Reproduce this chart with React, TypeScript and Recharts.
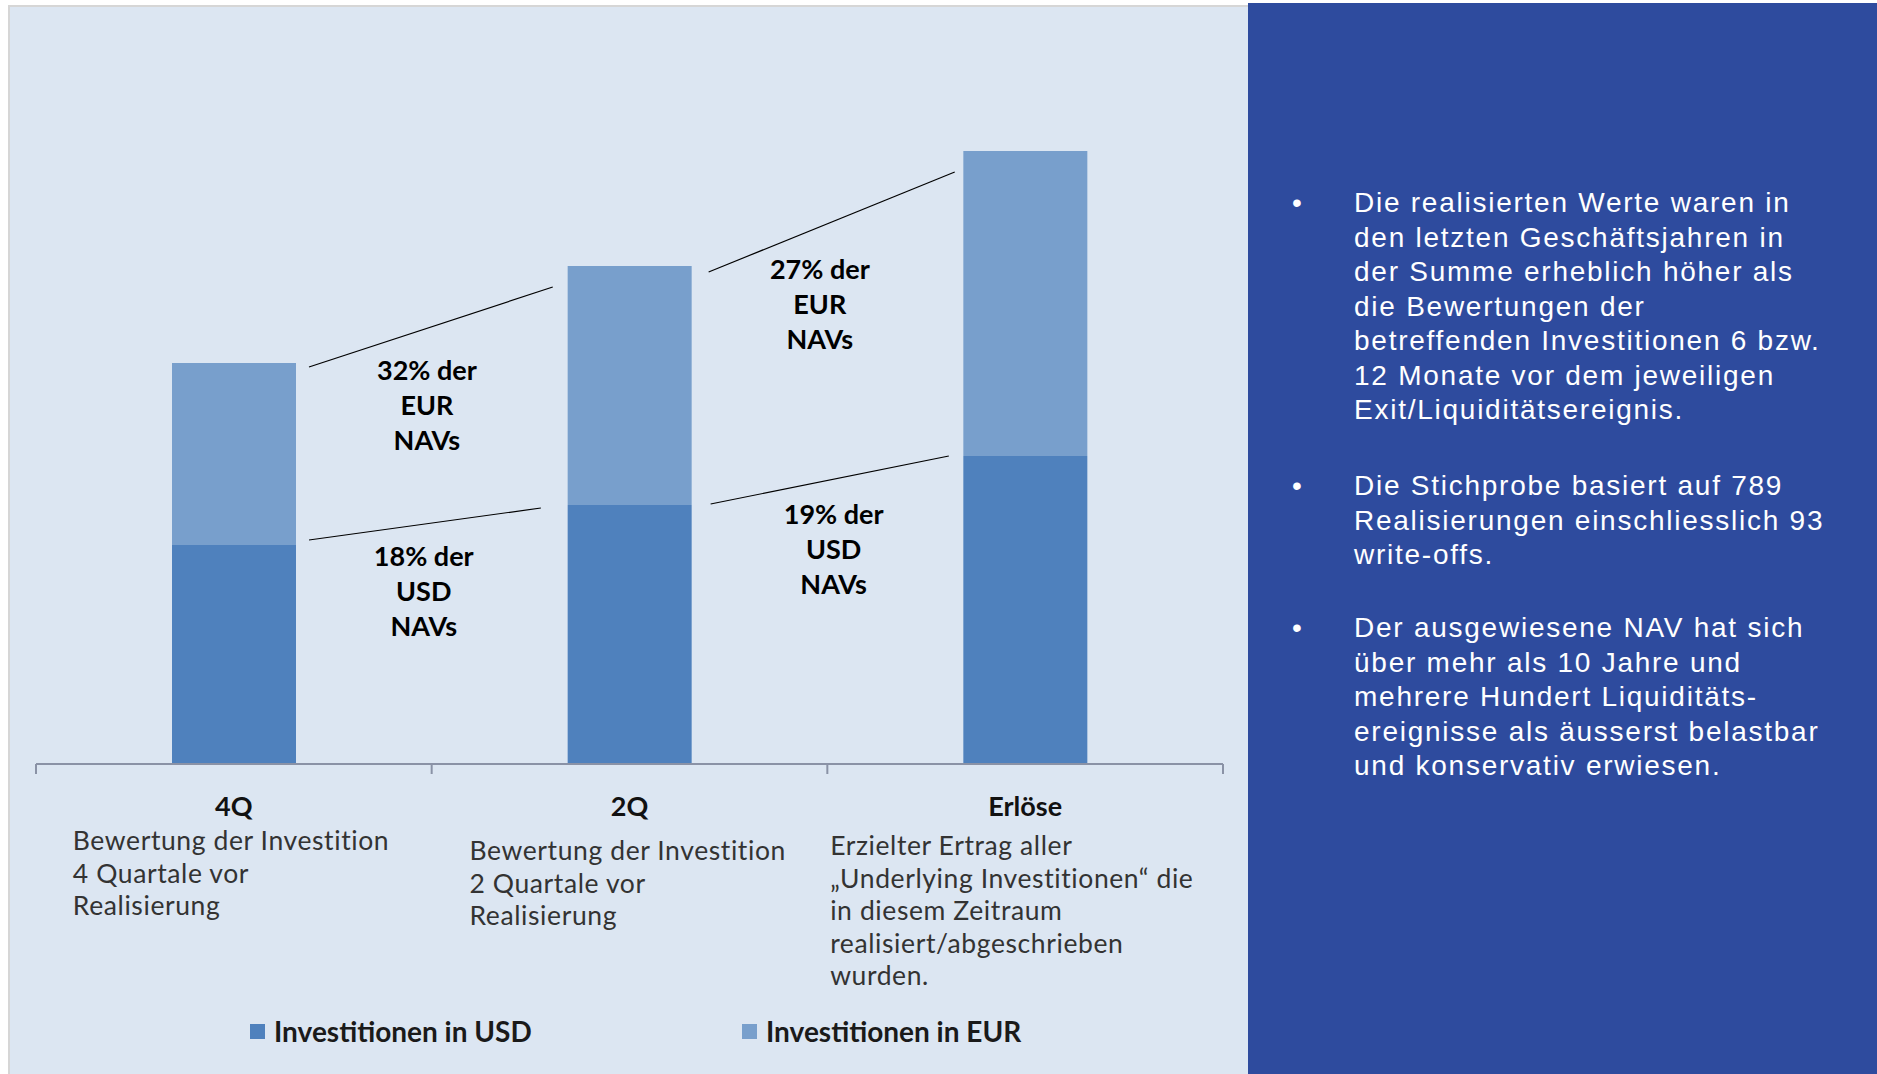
import React from 'react';
import { BarChart, Bar, XAxis, YAxis, Legend, ReferenceLine, ReferenceDot } from 'recharts';

// values are in relative units (index of valuations)
const categories = ['4Q', '2Q', 'Erlöse'];
const usdValues = [219, 259, 308];
const eurValues = [182, 239, 305];
const seriesNames = ['Investitionen in USD', 'Investitionen in EUR'];

const descriptions = [
  ['Bewertung der Investition', '4 Quartale vor', 'Realisierung'],
  ['Bewertung der Investition', '2 Quartale vor', 'Realisierung'],
  ['Erzielter Ertrag aller', '„Underlying Investitionen“ die', 'in diesem Zeitraum', 'realisiert/abgeschrieben', 'wurden.'],
];

// category boundaries (ticks between categories on the axis)
const edgeTicks = [-0.5, 0.5, 1.5, 2.5];

// connector lines between bars: x in category units (0 = first bar centre)
const connectors = [
  { x1: 0.19, y1: 397, x2: 0.806, y2: 477 },
  { x1: 0.19, y1: 224, x2: 0.776, y2: 256 },
  { x1: 1.2, y1: 492, x2: 1.822, y2: 592 },
  { x1: 1.205, y1: 260, x2: 1.807, y2: 308 },
];

const notes = [
  { x: 0.488, y: 395, lines: ['32% der', 'EUR', 'NAVs'] },
  { x: 0.48, y: 209, lines: ['18% der', 'USD', 'NAVs'] },
  { x: 1.481, y: 496, lines: ['27% der', 'EUR', 'NAVs'] },
  { x: 1.516, y: 251, lines: ['19% der', 'USD', 'NAVs'] },
];

const bullets = [
  [
    'Die realisierten Werte waren in',
    'den letzten Geschäftsjahren in',
    'der Summe erheblich höher als',
    'die Bewertungen der',
    'betreffenden Investitionen 6 bzw.',
    '12 Monate vor dem jeweiligen',
    'Exit/Liquiditätsereignis.',
  ],
  ['Die Stichprobe basiert auf 789', 'Realisierungen einschliesslich 93', 'write-offs.'],
  [
    'Der ausgewiesene NAV hat sich',
    'über mehr als 10 Jahre und',
    'mehrere Hundert Liquiditäts-',
    'ereignisse als äusserst belastbar',
    'und konservativ erwiesen.',
  ],
];

const data = categories.map((name, i) => ({ name, idx: i, usd: usdValues[i], eur: eurValues[i] }));

const USD_COLOR = '#4f81bd';
const EUR_COLOR = '#789fcc';
const AXIS = '#8a92a6';
const bulletTops = [186, 469, 611];
const descOffX = [-161, -160, -195];
const descOffY = [76, 86, 81];
const legendLeft = [250, 742];

const CategoryTick = (props: any) => {
  const { x, y, payload } = props;
  const i = categories.indexOf(payload.value);
  const lines = descriptions[i] || [];
  return (
    <g>
      <text x={x} y={y + 41} textAnchor="middle" dominantBaseline="central" fontFamily="Lato" fontWeight={700} fontSize={27} fill="#111">
        {payload.value}
      </text>
      {lines.map((l, k) => (
        <text key={k} x={x + descOffX[i]} y={y + descOffY[i] + k * 32.5} dominantBaseline="central" fontFamily="Lato" fontSize={26.5} letterSpacing={0.6} fill="#333">
          {l}
        </text>
      ))}
    </g>
  );
};

const NoteText = (props: any) => {
  const { cx, cy, lines } = props;
  return (
    <g>
      {lines.map((l: string, k: number) => (
        <text key={k} x={cx} y={cy + k * 35} textAnchor="middle" dominantBaseline="central" fontFamily="Lato" fontWeight={700} fontSize={27} fill="#000">
          {l}
        </text>
      ))}
    </g>
  );
};

const renderLegend = (props: any) => {
  const items = [...(props.payload || [])].sort(
    (a: any, b: any) => seriesNames.indexOf(a.value) - seriesNames.indexOf(b.value)
  );
  return (
    <div style={{ position: 'relative', width: 1248, height: 70 }}>
      {items.map((it: any, i: number) => (
        <div key={i} style={{ position: 'absolute', left: legendLeft[i], top: 12, height: 30, display: 'flex', alignItems: 'center' }}>
          <span style={{ width: 15, height: 15, background: it.color, marginRight: 9, display: 'inline-block' }} />
          <span style={{ fontFamily: 'Lato', fontWeight: 700, fontSize: 28, color: '#1a1a1a' }}>{it.value}</span>
        </div>
      ))}
    </div>
  );
};

export default function App() {
  return (
    <div style={{ position: 'absolute', left: 0, top: 0, width: 1877, height: 1074, background: '#fff', overflow: 'hidden' }}>
      <div style={{ position: 'absolute', left: 8, top: 5, width: 1240, height: 1069, background: '#dce6f2', borderLeft: '2px solid #d6d6d6', borderTop: '2px solid #d6d6d6', boxSizing: 'border-box' }} />
      <div style={{ position: 'absolute', left: 0, top: 0 }}>
        <BarChart width={1248} height={1074} data={data} margin={{ top: 64, right: 25, left: 36, bottom: 0 }} barSize={124}>
          <YAxis hide type="number" domain={[0, 700]} allowDataOverflow />
          <XAxis
            dataKey="name"
            height={240}
            axisLine={{ stroke: AXIS, strokeWidth: 2 }}
            tickLine={false}
            tickSize={0}
            tickMargin={0}
            interval={0}
            tick={<CategoryTick />}
          />
          <XAxis xAxisId="edge" hide type="number" dataKey="idx" domain={[-0.5, 2.5]} allowDataOverflow />
          <Bar dataKey="usd" name={seriesNames[0]} stackId="a" fill={USD_COLOR} isAnimationActive={false} />
          <Bar dataKey="eur" name={seriesNames[1]} stackId="a" fill={EUR_COLOR} isAnimationActive={false} />
          {edgeTicks.map((t) => (
            <ReferenceLine
              key={'t' + t}
              xAxisId="edge"
              segment={[{ x: t, y: 0 }, { x: t, y: -10 }]}
              stroke={AXIS}
              strokeWidth={2}
              ifOverflow="visible"
            />
          ))}
          {connectors.map((c, i) => (
            <ReferenceLine
              key={'c' + i}
              xAxisId="edge"
              segment={[{ x: c.x1, y: c.y1 }, { x: c.x2, y: c.y2 }]}
              stroke="#000"
              strokeWidth={1.2}
              ifOverflow="visible"
            />
          ))}
          {notes.map((n, i) => (
            <ReferenceDot
              key={'n' + i}
              xAxisId="edge"
              x={n.x}
              y={n.y}
              r={0}
              ifOverflow="visible"
              shape={(p: any) => <NoteText cx={p.cx} cy={p.cy} lines={n.lines} />}
            />
          ))}
          <Legend verticalAlign="bottom" height={70} content={renderLegend} wrapperStyle={{ left: 0, width: 1248 }} />
        </BarChart>
      </div>
      <div style={{ position: 'absolute', left: 1248, top: 3, width: 629, height: 1071, background: '#2e4b9e' }} />
      {bullets.map((b, i) => (
        <div key={i} style={{ position: 'absolute', left: 0, top: bulletTops[i], fontFamily: 'Liberation Sans', fontSize: 28, lineHeight: '34.5px', color: '#fff' }}>
          <div style={{ position: 'absolute', left: 1292, top: 0 }}>•</div>
          <div style={{ position: 'absolute', left: 1354, top: 0, whiteSpace: 'pre', letterSpacing: 1.75 }}>
            {b.map((l, k) => (
              <div key={k}>{l}</div>
            ))}
          </div>
        </div>
      ))}
    </div>
  );
}
